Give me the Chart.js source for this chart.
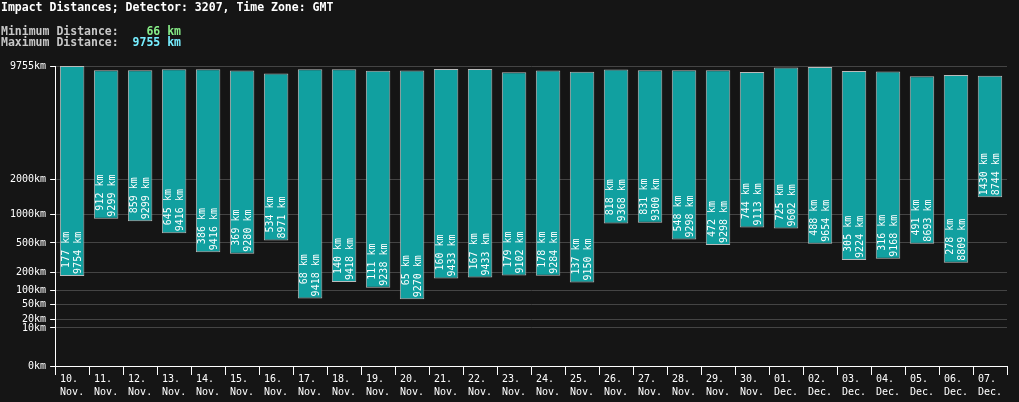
<!DOCTYPE html>
<html>
<head>
<meta charset="utf-8">
<script src="https://cdn.jsdelivr.net/npm/chart.js@4.4.1/dist/chart.umd.min.js"></script>
<style>
  html, body { margin: 0; padding: 0; background: #151515; }
  #wrap { width: 1019px; height: 402px; position: relative; }
</style>
</head>
<body>
<div id="wrap"><canvas id="impactChart"></canvas></div>
<script>
const days = ['10', '11', '12', '13', '14', '15', '16', '17', '18', '19', '20', '21', '22', '23', '24', '25', '26', '27', '28', '29', '30', '01', '02', '03', '04', '05', '06', '07'];
const months = ['Nov', 'Nov', 'Nov', 'Nov', 'Nov', 'Nov', 'Nov', 'Nov', 'Nov', 'Nov', 'Nov', 'Nov', 'Nov', 'Nov', 'Nov', 'Nov', 'Nov', 'Nov', 'Nov', 'Nov', 'Nov', 'Dec', 'Dec', 'Dec', 'Dec', 'Dec', 'Dec', 'Dec'];
const minKm = [177, 912, 859, 645, 386, 369, 534, 68, 140, 111, 65, 160, 167, 179, 178, 137, 818, 831, 548, 472, 744, 725, 488, 305, 316, 491, 278, 1430];
const maxKm = [9754, 9299, 9299, 9416, 9416, 9280, 8971, 9418, 9418, 9238, 9270, 9433, 9433, 9102, 9284, 9150, 9368, 9300, 9298, 9298, 9113, 9602, 9654, 9224, 9168, 8693, 8809, 8744];
const yTicks = [0, 10, 20, 50, 100, 200, 500, 1000, 2000, 9755];

const detector = 3207;
const timeZone = 'GMT';
const minDistance = 66;
const maxDistance = 9755;

// power scale, exponent 0.3
const tr = (v) => Math.pow(v, 0.3);

const FONT = '"DejaVu Sans Mono", monospace';
Chart.defaults.font.family = FONT;
Chart.defaults.font.size = 10;
Chart.defaults.color = '#ffffff';

const headerPlugin = {
  id: 'header',
  afterDraw(chart) {
    const ctx = chart.ctx;
    ctx.save();
    ctx.font = 'bold 11.5px ' + FONT;
    ctx.textAlign = 'left';
    ctx.textBaseline = 'alphabetic';
    ctx.fillStyle = '#ffffff';
    ctx.fillText('Impact Distances; Detector: ' + detector + ', Time Zone: ' + timeZone, 1, 11);

    const minLabel = 'Minimum Distance:';
    const maxLabel = 'Maximum Distance:';
    const minVal = (minDistance + ' km').padStart(9, ' ');
    const maxVal = (maxDistance + ' km').padStart(9, ' ');
    const w = ctx.measureText(minLabel).width;
    ctx.fillStyle = '#c8c8c8';
    ctx.fillText(minLabel, 1, 35);
    ctx.fillText(maxLabel, 1, 46);
    ctx.fillStyle = '#88ee88';
    ctx.fillText(minVal, 1 + w, 35);
    ctx.fillStyle = '#77eeff';
    ctx.fillText(maxVal, 1 + w, 46);
    ctx.restore();
  }
};

const barLabelPlugin = {
  id: 'barLabels',
  afterDatasetsDraw(chart) {
    const ctx = chart.ctx;
    const meta = chart.getDatasetMeta(0);
    ctx.save();
    ctx.font = '10px ' + FONT;
    ctx.fillStyle = '#ffffff';
    ctx.textBaseline = 'middle';
    ctx.textAlign = 'right';
    meta.data.forEach((bar, i) => {
      const l1 = minKm[i] + ' km';
      const l2 = maxKm[i] + ' km';
      const len = Math.max(ctx.measureText(l1).width, ctx.measureText(l2).width);
      ctx.save();
      ctx.translate(bar.x, Math.max(bar.base, bar.y));
      ctx.rotate(-Math.PI / 2);
      ctx.fillText(l1, 2 + len, -6);
      ctx.fillText(l2, 2 + len, 6);
      ctx.restore();
    });
    ctx.restore();
  }
};

const labels = days.map((d, i) => [d + '. ', months[i] + '.']);

new Chart(document.getElementById('impactChart'), {
  type: 'bar',
  data: {
    labels: labels,
    datasets: [{
      label: 'Distance',
      data: minKm.map((v, i) => [tr(v), tr(maxKm[i])]),
      backgroundColor: '#11a0a0',
      borderColor: '#bbbbbb',
      borderWidth: 1,
      borderSkipped: false,
      barPercentage: 0.72,
      categoryPercentage: 1,
    }]
  },
  options: {
    responsive: true,
    maintainAspectRatio: false,
    animation: false,
    layout: {
      padding: { left: 6, right: 12, top: 66, bottom: 5 }
    },
    scales: {
      x: {
        offset: true,
        border: { color: '#ffffff', width: 1 },
        grid: {
          offset: true,
          drawOnChartArea: true,
          color: (c) => (c.index === days.length ? '#ffffff' : 'rgba(0,0,0,0)'),
          tickColor: '#ffffff',
          tickLength: 9,
        },
        ticks: {
          color: '#ffffff',
          padding: -2,
          maxRotation: 0,
          autoSkip: false,
          font: { size: 10, lineHeight: 1.3 },
        }
      },
      y: {
        type: 'linear',
        min: 0,
        max: tr(yTicks[yTicks.length - 1]),
        border: { color: '#ffffff', width: 1 },
        grid: {
          color: '#444444',
          tickColor: '#ffffff',
          tickLength: 5,
        },
        afterBuildTicks: (axis) => {
          axis.ticks = yTicks.map((v) => ({ value: tr(v) }));
        },
        ticks: {
          color: '#ffffff',
          padding: 4,
          autoSkip: false,
          font: { size: 10 },
          callback: (value, index) => yTicks[index] + 'km',
        }
      }
    },
    plugins: {
      legend: { display: false },
      tooltip: {
        callbacks: {
          label: (context) => minKm[context.dataIndex] + ' km - ' + maxKm[context.dataIndex] + ' km',
        }
      }
    }
  },
  plugins: [headerPlugin, barLabelPlugin]
});
</script>
</body>
</html>
